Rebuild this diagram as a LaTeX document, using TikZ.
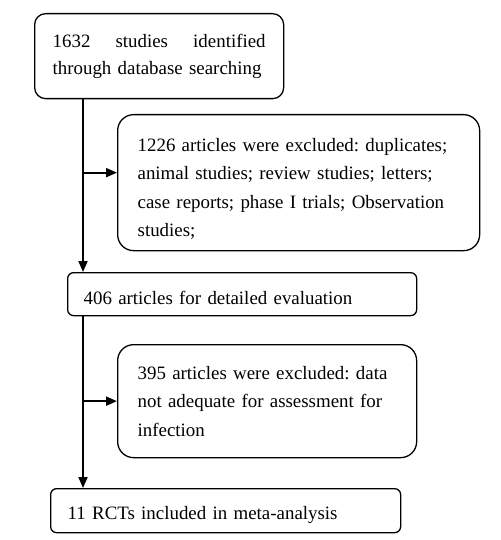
\documentclass[tikz,border=0pt]{standalone}
\usepackage{fontspec}
\setmainfont{Liberation Serif}
\usetikzlibrary{arrows.meta}
\begin{document}
\frenchspacing
\begin{tikzpicture}[x=1pt,y=-1pt,
  box/.style={draw, line width=1.3pt, anchor=north west, align=left, inner ysep=0pt,
    font=\fontsize{18.9}{28.5}\selectfont\frenchspacing},
  arr/.style={line width=2pt, -{Triangle[length=11pt,width=9pt]}}]
\useasboundingbox (0,0) rectangle (500,540);
\node[box, rounded corners=11pt, inner xsep=18pt, text width=213pt, minimum height=85pt,
  font=\fontsize{18.9}{27.5}\selectfont] (b1) at (34,13)
  {1632\hfill studies\hfill identified\\\mbox{through database searching}};
\node[box, rounded corners=16pt, inner xsep=20pt, text width=322pt, minimum height=136pt] (b2) at (117,114)
  {\mbox{\rule{0pt}{26pt}1226 articles were excluded: duplicates;}\\\mbox{animal studies; review studies; letters;}\\\mbox{case reports; phase I trials; Observation}\\\mbox{studies;}};
\node[box, rounded corners=6pt, inner xsep=16pt, text width=317pt, minimum height=43pt] (b3) at (67,272)
  {\mbox{\rule{0pt}{20pt}406 articles for detailed evaluation}};
\node[box, rounded corners=16pt, inner xsep=20pt, text width=259pt, minimum height=113pt] (b4) at (117,344)
  {\mbox{395 articles were excluded: data}\\\mbox{not adequate for assessment for}\\\mbox{infection}};
\node[box, rounded corners=6pt, inner xsep=17pt, text width=316pt, minimum height=44pt] (b5) at (50,488)
  {\mbox{\rule{0pt}{21pt}11 RCTs included in meta-analysis}};
\coordinate (t) at (83,0);
\draw[arr] (b1.south -| t) -- (b3.north -| t);
\draw[arr] ([yshift=10pt]b2.west -| t) -- ([yshift=10pt]b2.west);
\draw[arr] (b3.south -| t) -- (b5.north -| t);
\draw[arr] (b4.west -| t) -- (b4.west);
\end{tikzpicture}
\end{document}
